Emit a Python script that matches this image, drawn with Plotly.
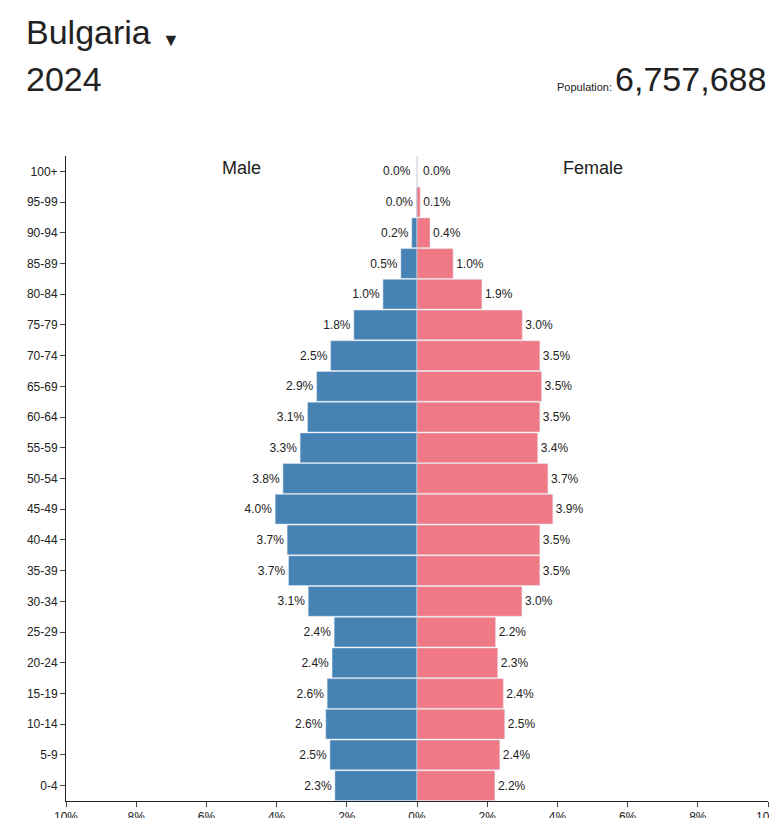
import plotly.graph_objects as go

ages = ["0-4", "5-9", "10-14", "15-19", "20-24", "25-29", "30-34", "35-39", "40-44",
        "45-49", "50-54", "55-59", "60-64", "65-69", "70-74", "75-79", "80-84",
        "85-89", "90-94", "95-99", "100+"]
male = [2.34, 2.48, 2.6, 2.56, 2.42, 2.36, 3.1, 3.66, 3.7, 4.04, 3.82, 3.33, 3.12,
        2.86, 2.46, 1.8, 0.97, 0.46, 0.15, 0.02, 0.0]
female = [2.22, 2.36, 2.5, 2.46, 2.3, 2.24, 2.99, 3.5, 3.5, 3.87, 3.73, 3.44, 3.5,
          3.55, 3.5, 3.0, 1.85, 1.03, 0.37, 0.09, 0.01]
male_lbl = ["2.3%", "2.5%", "2.6%", "2.6%", "2.4%", "2.4%", "3.1%", "3.7%", "3.7%", "4.0%",
            "3.8%", "3.3%", "3.1%", "2.9%", "2.5%", "1.8%", "1.0%", "0.5%", "0.2%", "0.0%", "0.0%"]
female_lbl = ["2.2%", "2.4%", "2.5%", "2.4%", "2.3%", "2.2%", "3.0%", "3.5%", "3.5%", "3.9%",
              "3.7%", "3.4%", "3.5%", "3.5%", "3.5%", "3.0%", "1.9%", "1.0%", "0.4%", "0.1%", "0.0%"]
tick_vals = [-10, -8, -6, -4, -2, 0, 2, 4, 6, 8, 10]
tick_text = ["10%", "8%", "6%", "4%", "2%", "0%", "2%", "4%", "6%", "8%", "10%"]

# labels of the 100+ row are placed as annotations so they don't overlap
m_text = male_lbl[:-1] + [""]
f_text = female_lbl[:-1] + [""]

fig = go.Figure()
fig.add_trace(go.Bar(y=ages, x=[-v for v in male], orientation="h", marker_color="#4682b4",
                     text=m_text, textposition="outside", cliponaxis=False,
                     textfont=dict(size=12, color="#222"), name="Male"))
fig.add_trace(go.Bar(y=ages, x=female, orientation="h", marker_color="#ef7a85",
                     text=f_text, textposition="outside", cliponaxis=False,
                     textfont=dict(size=12, color="#222"), name="Female"))

fig.update_layout(
    width=777, height=818, barmode="overlay", bargap=0.03, showlegend=False,
    plot_bgcolor="white", paper_bgcolor="white",
    font=dict(family="Liberation Sans, Arial", color="#222"),
    margin=dict(l=58, r=17, t=148, b=25),
    xaxis=dict(range=[-10, 10], tickvals=tick_vals, ticktext=tick_text, showgrid=False,
               zeroline=True, zerolinecolor="#e6e6e6", showline=True, linecolor="#222",
               ticks="outside", ticklen=5, tickfont=dict(size=12), automargin=False),
    yaxis=dict(showgrid=False, showline=True, linecolor="#222", ticks="outside",
               ticklen=5, tickfont=dict(size=12), range=[-0.5, 20.5], automargin=False),
    annotations=[
        dict(text="Bulgaria", xref="paper", yref="paper", x=-0.06, y=1.225, xanchor="left",
             yanchor="top", showarrow=False, font=dict(size=34, color="#222")),
        dict(text="\u25BC", xref="paper", yref="paper", x=0.15, y=1.18, xanchor="center",
             yanchor="middle", showarrow=False, font=dict(size=18, color="#222")),
        dict(text="2024", xref="paper", yref="paper", x=-0.06, y=1.152, xanchor="left",
             yanchor="top", showarrow=False, font=dict(size=34, color="#222")),
        dict(text="<span style='font-size:11px'>Population: </span>6,757,688", xref="paper",
             yref="paper", x=1.0, y=1.152, xanchor="right", yanchor="top", showarrow=False,
             font=dict(size=34, color="#222")),
        dict(text="Male", x=-5, y=20.1, xref="x", yref="y", showarrow=False, font=dict(size=18)),
        dict(text="Female", x=5, y=20.1, xref="x", yref="y", showarrow=False, font=dict(size=18)),
        dict(text=male_lbl[-1], x=-0.1, y=ages[-1], xref="x", yref="y", xanchor="right",
             showarrow=False, font=dict(size=12)),
        dict(text=female_lbl[-1], x=0.1, y=ages[-1], xref="x", yref="y", xanchor="left",
             showarrow=False, font=dict(size=12)),
    ],
)
fig.write_html("out.html")
